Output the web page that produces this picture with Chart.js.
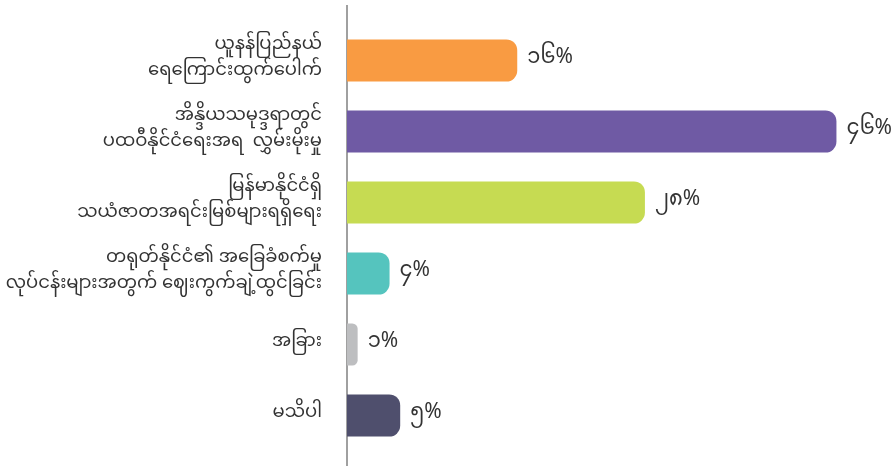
<!DOCTYPE html>
<html><head><meta charset="utf-8">
<script src="https://cdn.jsdelivr.net/npm/chart.js@4/dist/chart.umd.min.js"></script>
<style>html,body{margin:0;padding:0;background:#fff}#wrap{width:895px;height:466px}</style>
</head><body><div id="wrap"><canvas id="c"></canvas></div>
<script>
const categories = [
  ["ယူနန်ပြည်နယ်","ရေကြောင်းထွက်ပေါက်"],
  ["အိန္ဒိယသမုဒ္ဒရာတွင်","ပထဝီနိုင်ငံရေးအရ  လွှမ်းမိုးမှု"],
  ["မြန်မာနိုင်ငံရှိ","သယံဇာတအရင်းမြစ်များရရှိရေး"],
  ["တရုတ်နိုင်ငံ၏ အခြေခံစက်မှု","လုပ်ငန်းများအတွက် ဈေးကွက်ချဲ့ထွင်ခြင်း"],
  ["အခြား"],
  ["မသိပါ"]
];
const values = [16, 46, 28, 4, 1, 5];
const valueLabels = ["၁၆%","၄၆%","၂၈%","၄%","၁%","၅%"];
const colors = ["#F99B42","#6F5AA4","#C6DB52","#55C4BE","#BDBEC0","#4F4F6D"];
const FONT = "'Noto Sans Myanmar','Myanmar Text','Padauk','Noto Sans',sans-serif";

const valuePlugin = {
  id:'valueLabels',
  afterDatasetsDraw(chart){
    const ctx = chart.ctx;
    const meta = chart.getDatasetMeta(0);
    ctx.save();
    ctx.fillStyle = '#333';
    ctx.font = '21px ' + FONT;
    ctx.textAlign = 'left';
    ctx.textBaseline = 'middle';
    meta.data.forEach((bar,i)=>{
      ctx.fillText(valueLabels[i], bar.x + 10, bar.y);
    });
    ctx.restore();
  }
};
const axisPlugin = {
  id:'axisLine',
  beforeDatasetsDraw(chart){
    const ctx = chart.ctx;
    const x = chart.chartArea.left;
    ctx.save();
    ctx.strokeStyle = '#808080';
    ctx.lineWidth = 1.5;
    ctx.beginPath();
    ctx.moveTo(x, 5);
    ctx.lineTo(x, chart.height);
    ctx.stroke();
    ctx.restore();
  }
};

new Chart(document.getElementById('c'), {
  type:'bar',
  data:{labels:categories, datasets:[{data:values, backgroundColor:colors,
    borderRadius:{topLeft:0,bottomLeft:0,topRight:11,bottomRight:11}, borderSkipped:false,
    categoryPercentage:1, barPercentage:0.595}]},
  options:{
    indexAxis:'y', responsive:true, maintainAspectRatio:false, animation:false,
    layout:{padding:{top:25,bottom:15,left:0,right:16}},
    plugins:{legend:{display:false}, tooltip:{enabled:false}},
    scales:{
      x:{display:false, min:0, max:50},
      y:{
        grid:{display:false, drawTicks:false},
        border:{display:false},
        ticks:{color:'#333', font:{family:FONT, size:18, lineHeight:1.45}, padding:25},
        afterFit(scale){ scale.width = 347; scale.paddingTop = 0; scale.paddingBottom = 0; }
      }
    }
  },
  plugins:[valuePlugin, axisPlugin]
});
</script></body></html>
